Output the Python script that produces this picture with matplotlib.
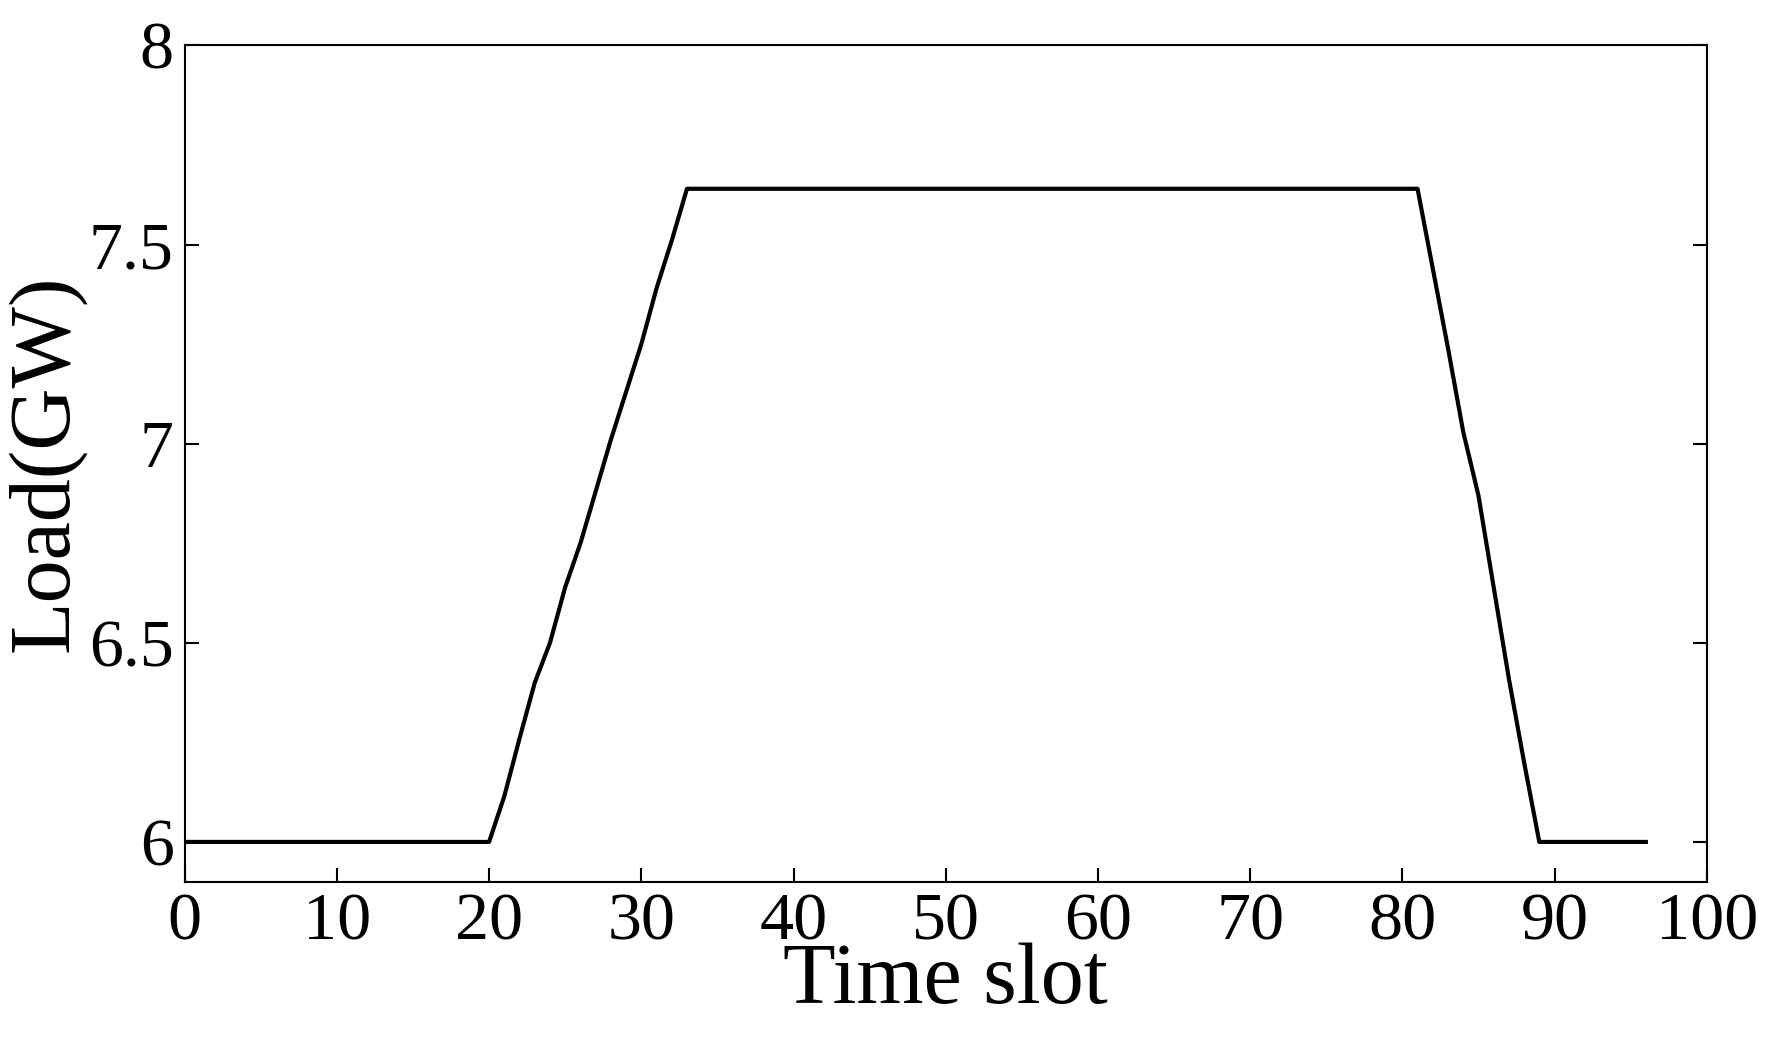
import matplotlib
matplotlib.use("Agg")
import matplotlib.pyplot as plt

time_slot = list(range(0, 97))
rise = [6.0, 6.115, 6.26, 6.40, 6.50, 6.64, 6.75, 6.88, 7.01, 7.13, 7.25, 7.39, 7.51, 7.64]  # slots 20..33
fall = [7.64, 7.44, 7.24, 7.03, 6.87, 6.64, 6.41, 6.20, 6.0]  # slots 81..89
load = [6.0] * 20 + rise + [7.64] * (81 - 34) + fall + [6.0] * (96 - 89)

plt.rcParams['font.family'] = ['Liberation Serif', 'DejaVu Serif']

fig = plt.figure(figsize=(17.76, 10.56), dpi=100)
ax = fig.add_axes([0.104, 0.165, 0.857, 0.792])
ax.plot(time_slot, load, color='black', linewidth=3)

ax.set_xlim(0, 100)
ax.set_ylim(5.9, 8)
ax.set_xticks(range(0, 101, 10))
ax.set_yticks([6, 6.5, 7, 7.5, 8])
ax.set_yticklabels(['6', '6.5', '7', '7.5', '8'])
ax.tick_params(direction='in', length=10, width=1.5, labelsize=49, right=True, pad=8)
for s in ax.spines.values():
    s.set_linewidth(1.5)

ax.set_xlabel("Time slot", fontsize=62, labelpad=-8)
ax.set_ylabel("Load(GW)", fontsize=62, labelpad=2)

fig.savefig("out.png", dpi=100)
